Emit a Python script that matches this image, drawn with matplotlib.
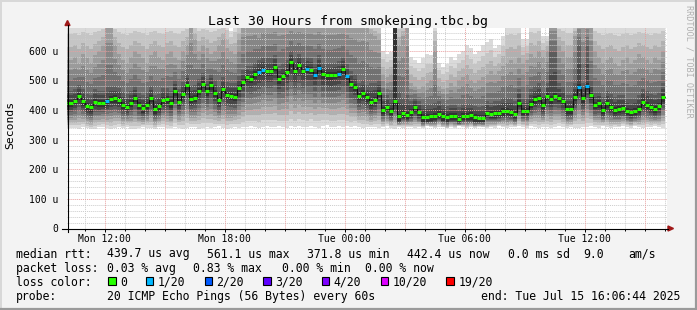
import numpy as np
import matplotlib
matplotlib.use('Agg')
import matplotlib.pyplot as plt
from matplotlib.patches import Rectangle, Polygon

W, H, DPI = 697, 310, 100
MONO = 'DejaVu Sans Mono'

# time axis in hours since Mon 00:00; window ends Tue 16:06:44
t_end = 40 + 6 / 60 + 44 / 3600
t_start = t_end - 30
first_step = 10.2       # Mon 10:12
step_len = 0.2          # 12 minute consolidation

# median rtt per step, microseconds
median_us = [
    424, 431, 448, 430, 412, 409, 428, 425, 425, 429, 437, 440, 434, 418, 410, 425, 442, 418, 406, 417, 442, 403, 413, 435, 436,
    422, 463, 427, 454, 483, 438, 442, 464, 488, 463, 484, 458, 434, 472, 452, 447, 445, 474, 495, 511, 506, 520, 528, 536, 531,
    531, 546, 504, 516, 527, 561, 533, 552, 533, 539, 536, 519, 543, 520, 517, 517, 518, 522, 538, 513, 488, 479, 448, 458, 443,
    427, 434, 458, 401, 410, 398, 429, 378, 389, 383, 392, 409, 392, 375, 376, 378, 380, 388, 379, 375, 381, 381, 371, 380, 381,
    382, 376, 373, 374, 391, 387, 389, 391, 396, 398, 394, 387, 425, 398, 398, 421, 436, 442, 417, 447, 436, 447, 442, 431, 402,
    402, 444, 479, 440, 482, 449, 418, 422, 401, 422, 411, 400, 404, 407, 397, 393, 398, 404, 427, 418, 410, 404, 413, 443,
]
# steps where 1 of 20 pings was lost
loss_1_steps = [9, 47, 48, 59, 61, 62, 67, 69, 127, 129]

# smoke: lowest ping, top of dark core, top of mid grey, highest ping (us)
ping_lo = [
    340, 338, 336, 342, 340, 335, 337, 341, 343, 339, 336, 340, 344, 338, 341, 337, 335, 339, 342, 340, 338, 336, 341, 343, 339,
    338, 342, 340, 336, 339, 344, 341, 337, 340, 343, 338, 341, 345, 339, 336, 340, 343, 338, 341, 344, 346, 342, 339, 343, 345,
    344, 341, 346, 343, 340, 345, 342, 347, 344, 341, 346, 343, 340, 345, 348, 344, 341, 346, 343, 345, 342, 347, 344, 340, 343,
    341, 344, 339, 342, 345, 340, 336, 343, 340, 344, 341, 338, 343, 340, 345, 342, 339, 344, 341, 338, 343, 340, 345, 342, 339,
    342, 339, 344, 341, 338, 343, 340, 345, 342, 339, 344, 341, 346, 343, 340, 345, 342, 339, 344, 341, 338, 343, 346, 342, 340,
    343, 340, 338, 344, 341, 346, 343, 340, 345, 342, 339, 344, 341, 346, 343, 340, 345, 342, 339, 344, 341, 346, 343, 340,
]
dark_hi = [
    465, 470, 485, 470, 455, 450, 470, 465, 465, 480, 480, 480, 475, 460, 455, 465, 480, 460, 450, 460, 480, 450, 455, 475, 475,
    465, 500, 470, 495, 520, 480, 485, 505, 525, 505, 520, 500, 480, 510, 495, 490, 490, 515, 535, 550, 550, 560, 570, 575, 575,
    575, 585, 550, 560, 570, 600, 575, 590, 575, 580, 575, 560, 585, 560, 555, 555, 560, 565, 580, 555, 530, 520, 490, 500, 485,
    490, 490, 500, 450, 450, 440, 700, 460, 440, 450, 430, 440, 430, 420, 420, 420, 425, 430, 420, 415, 420, 420, 410, 420, 420,
    420, 415, 410, 415, 430, 425, 430, 430, 440, 440, 440, 430, 470, 440, 440, 470, 480, 490, 460, 490, 600, 600, 490, 480, 450,
    450, 490, 620, 490, 620, 500, 460, 460, 445, 465, 455, 445, 450, 450, 440, 440, 440, 450, 470, 465, 455, 450, 460, 490,
]
mid_hi = [
    570, 580, 560, 590, 575, 560, 585, 600, 620, 700, 700, 620, 590, 570, 560, 580, 600, 590, 575, 560, 585, 600, 580, 570, 590,
    600, 580, 570, 600, 620, 700, 640, 600, 620, 610, 590, 600, 620, 640, 610, 600, 590, 640, 700, 700, 700, 700, 680, 700, 700,
    700, 700, 700, 700, 700, 700, 700, 700, 700, 700, 700, 700, 700, 700, 700, 700, 700, 700, 700, 700, 700, 700, 700, 700, 700,
    660, 650, 640, 520, 510, 520, 700, 620, 650, 700, 490, 480, 470, 480, 490, 500, 600, 480, 470, 475, 490, 480, 500, 510, 520,
    500, 490, 500, 510, 520, 530, 520, 530, 550, 560, 570, 560, 580, 560, 570, 590, 580, 600, 580, 600, 700, 700, 620, 600, 580,
    580, 650, 700, 700, 700, 700, 600, 580, 560, 570, 580, 560, 550, 570, 580, 560, 570, 590, 580, 570, 560, 580, 570, 600,
]
ping_hi = [
    700, 700, 700, 700, 700, 700, 700, 700, 700, 700, 700, 700, 700, 700, 700, 700, 700, 700, 700, 700, 700, 700, 700, 700, 700,
    700, 700, 700, 700, 700, 700, 700, 700, 700, 700, 700, 700, 700, 700, 700, 668, 700, 700, 700, 700, 700, 700, 700, 700, 700,
    700, 700, 700, 700, 700, 700, 700, 700, 700, 700, 700, 700, 700, 700, 700, 700, 700, 700, 700, 700, 700, 700, 700, 700, 700,
    700, 700, 700, 600, 590, 595, 700, 700, 700, 700, 580, 570, 560, 575, 590, 585, 700, 560, 545, 555, 580, 570, 590, 600, 620,
    610, 590, 600, 620, 630, 640, 610, 620, 650, 700, 700, 700, 700, 640, 640, 700, 700, 700, 650, 650, 700, 700, 700, 700, 700,
    700, 700, 700, 700, 700, 700, 700, 700, 700, 700, 700, 700, 700, 700, 700, 700, 700, 700, 700, 700, 700, 700, 700, 700,
]
spike_steps = [81]   # step where the dark core reaches the top

loss_colors = ['#26ff00', '#00b8ff', '#0059ff', '#5e00ff', '#7e00ff', '#dd00ff', '#ff0000']
loss_labels = ['0', '1/20', '2/20', '3/20', '4/20', '10/20', '19/20']

x_labels = ['Mon 12:00', 'Mon 18:00', 'Tue 00:00', 'Tue 06:00', 'Tue 12:00']
x_label_hours = [12, 18, 24, 30, 36]

# ---------------------------------------------------------------
u = 1e-6
med = np.array(median_us, float)
n = len(med)
edges = first_step + step_len * np.arange(n + 1)
edges[0] = t_start
lo = np.array(ping_lo, float)
dk = np.array(dark_hi, float)
md = np.array(mid_hi, float)
hi = np.array(ping_hi, float)
core = med + 10
core[spike_steps] = 700

tops = [hi, md + 2 * (hi - md) / 3, md + (hi - md) / 3, md,
        dk + 2 * (md - dk) / 3, dk + (md - dk) / 3, dk, (core + dk) / 2, core]
for k in range(len(tops) - 2, -1, -1):
    tops[k] = np.maximum(tops[k], tops[k + 1])
base = med - 15
bots = [lo + (base - lo) * j / 8 for j in range(9)]

fig = plt.figure(figsize=(W / DPI, H / DPI), dpi=DPI)
fig.patch.set_facecolor('#f3f3f3')
ax = fig.add_axes([67 / W, (H - 228.5) / H, 600 / W, 200.3 / H])
ax.set_facecolor('white')

for j in range(9):
    g = int(190 / 9 * (9 - (j + 1))) + 50
    col = '#%02x%02x%02x' % (g, g, g)
    ax.fill_between(edges, np.append(bots[j], bots[j][-1]) * u,
                    np.append(tops[j], tops[j][-1]) * u,
                    step='post', color=col, lw=0, zorder=1)

ax.step(edges, np.append(med, med[-1]) * u, where='post', color='#101010', lw=0.7, zorder=4)
seg_col = [loss_colors[1] if i in loss_1_steps else loss_colors[0] for i in range(n)]
ax.hlines(med * u, edges[:-1], edges[1:], colors=seg_col, lw=2.2, zorder=5)

ax.set_xlim(t_start, t_end)
ax.set_ylim(0, 676 * u)
ax.set_xticks(x_label_hours)
ax.set_xticklabels(x_labels)
ax.set_xticks(np.arange(11, 41, 1), minor=True)
ax.set_yticks(np.arange(0, 601, 100) * u)
ax.set_yticklabels(['0'] + ['%d u' % v for v in range(100, 601, 100)])
ax.set_yticks(np.arange(0, 676, 20) * u, minor=True)
for lab in ax.get_xticklabels() + ax.get_yticklabels():
    lab.set_family(MONO)
    lab.set_fontsize(7)
ax.tick_params(axis='x', which='major', length=2.5, width=0.7, pad=1.8, direction='out')
ax.tick_params(axis='x', which='minor', length=1.5, width=0.7, direction='out')
ax.tick_params(axis='y', which='both', length=0, pad=6)
for s in ax.spines.values():
    s.set_visible(False)

for h in np.arange(11, 41, 1):
    if h % 3:
        ax.axvline(h, color='#cccccc', lw=0.7, ls=(0, (1, 1)), zorder=2.5)
for v in np.arange(20, 676, 20):
    if v % 100:
        ax.axhline(v * u, color='#cccccc', lw=0.7, ls=(0, (1, 1)), zorder=2.5)
for h in range(12, 41, 3):
    ax.axvline(h, color='#e8a0a0', lw=0.7, ls=(0, (1, 1)), zorder=2.6)
for v in range(100, 601, 100):
    ax.axhline(v * u, color='#e8a0a0', lw=0.7, ls=(0, (1, 1)), zorder=2.6)

# overlay in pixel coordinates
ov = fig.add_axes([0, 0, 1, 1])
ov.set_xlim(0, W)
ov.set_ylim(H, 0)
ov.axis('off')

ov.plot([62, 668], [228.5, 228.5], color='black', lw=0.8)
ov.plot([67.5, 67.5], [232, 25], color='black', lw=0.8)
ov.add_patch(Polygon([[668, 226], [673.5, 228.5], [668, 231]], closed=True, color='#a01818'))
ov.add_patch(Polygon([[65, 25.5], [67.5, 20.5], [70, 25.5]], closed=True, color='#a01818'))

# frame
ov.plot([0, W], [0.5, 0.5], color='#d8d8d8', lw=1.4)
ov.plot([0.5, 0.5], [0, H], color='#d8d8d8', lw=1.4)
ov.plot([0, W], [H - 1, H - 1], color='#9a9a9a', lw=1.6)
ov.plot([W - 1, W - 1], [0, H], color='#9a9a9a', lw=1.6)

ov.text(347.5, 24.7, 'Last 30 Hours from smokeping.tbc.bg', family=MONO, fontsize=9.5,
        ha='center', va='baseline')
ov.text(10.5, 125, 'Seconds', family=MONO, fontsize=8.2, rotation=90, ha='center', va='center')
ov.text(688.5, 5, 'RRDTOOL / TOBI OETIKER', family=MONO, fontsize=6.1, rotation=270,
        ha='center', va='top', color='#b0b0b0')

fs = 8.3
y1, y2, y3, y4 = 257.5, 271.7, 285.9, 300.1
rows = [
    (y1, [(16, 'median rtt:'), (107, '439.7 us avg'), (207, '561.1 us max'), (307, '371.8 us min'),
          (407, '442.4 us now'), (508, '0.0 ms sd'), (583, '9.0'), (628, 'am/s')]),
    (y2, [(16, 'packet loss:'), (107, '0.03 % avg'), (193, '0.83 % max'), (282, '0.00 % min'),
          (365, '0.00 % now')]),
    (y3, [(16, 'loss color:')]),
    (y4, [(16, 'probe:'), (107, '20 ICMP Echo Pings (56 Bytes) every 60s')]),
]
for yb, items in rows:
    for x, s in items:
        ov.text(x, yb, s, family=MONO, fontsize=fs, ha='left', va='baseline')
ov.text(680, y4, 'end: Tue Jul 15 16:06:44 2025', family=MONO, fontsize=fs, ha='right', va='baseline')

box_x = [108, 145.8, 204.5, 263.2, 321.9, 380.6, 446.3]
for bx, c, lab in zip(box_x, loss_colors, loss_labels):
    ov.add_patch(Rectangle((bx, y3 - 8.5), 7.5, 7.5, facecolor=c, edgecolor='black', lw=0.8))
    ov.text(bx + 12, y3, lab, family=MONO, fontsize=fs, ha='left', va='baseline')

fig.savefig('out.png', dpi=DPI, facecolor=fig.get_facecolor())
